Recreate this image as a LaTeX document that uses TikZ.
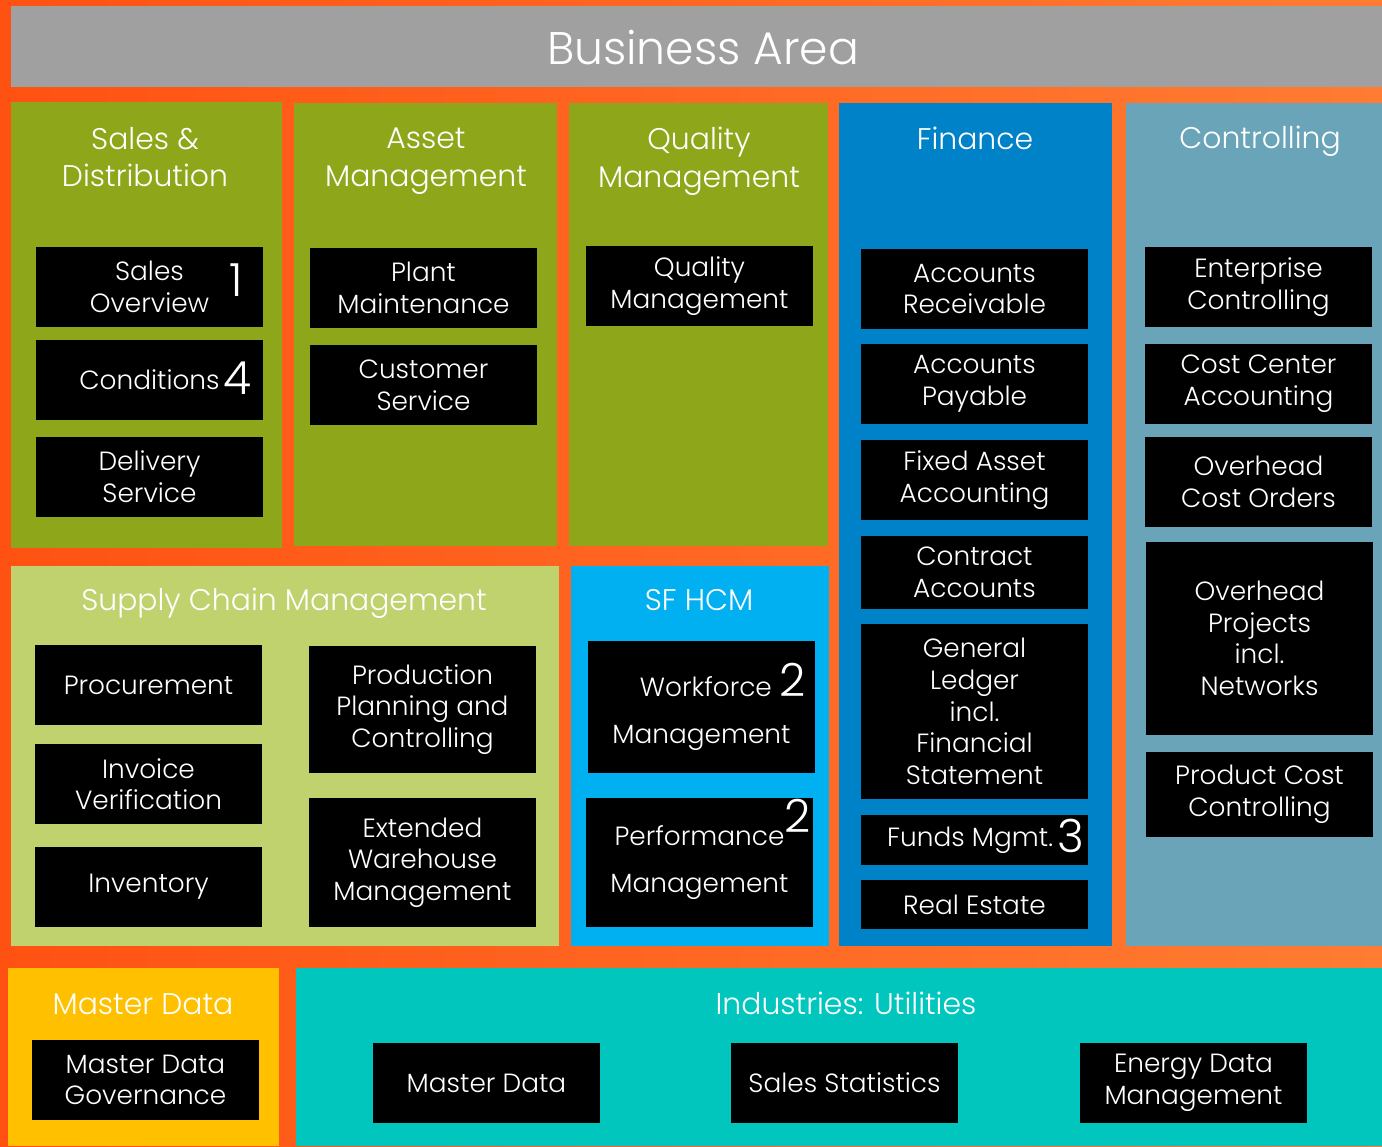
\documentclass[tikz,border=0pt]{standalone}
\usepackage{fontspec}
\setmainfont{Poppins}[UprightFont={* Light}]

\definecolor{bgleft}{HTML}{FF5212}
\definecolor{bgright}{HTML}{FF7C32}
\definecolor{headgray}{HTML}{A0A0A0}
\definecolor{olivegreen}{HTML}{8EA61A}
\definecolor{lightgreen}{HTML}{C0D26E}
\definecolor{hcmblue}{HTML}{00B0F0}
\definecolor{finblue}{HTML}{0082C8}
\definecolor{ctrlblue}{HTML}{6AA4B8}
\definecolor{mdyellow}{HTML}{FFC000}
\definecolor{indteal}{HTML}{00C6BE}

\newcommand{\boxfont}{\fontsize{15}{18}\selectfont}
\newcommand{\titlefont}{\fontsize{17}{21.5}\selectfont}
\newcommand{\numfont}{\fontsize{26}{26}\selectfont}

\tikzset{
  modbox/.style={fill=black, inner sep=0pt, text=white, align=center, font=\boxfont,
    minimum width=227*0.02cm, minimum height=80*0.02cm},
  boxh/.style={minimum height=#1*0.02cm},
  paneltitle/.style={text=white, align=center, font=\titlefont},
  numtag/.style={text=white, inner sep=0pt, font=\numfont}
}

\begin{document}
\begin{tikzpicture}[x=0.02cm, y=-0.02cm]
        \useasboundingbox (0,0) rectangle (1382,1146);
        % Background
        \shade[left color=bgleft, right color=bgright] (0,0) rectangle (1382,1146);

        % Header
        \fill[headgray] (11,6) rectangle (1382,87);
        \node[text=white, font=\fontsize{26}{30}\selectfont] (head) at (703,48) {Business Area};

        % Panels
        \fill[olivegreen] (11,102) rectangle (282,548);
        \fill[olivegreen] (294,103) rectangle (557,546);
        \fill[olivegreen] (569,103) rectangle (828,546);
        \fill[finblue] (839,103) rectangle (1112,946);
        \fill[ctrlblue] (1126,103) rectangle (1382,946);
        \fill[lightgreen] (11,566) rectangle (559,946);
        \fill[hcmblue] (571,566) rectangle (829,946);
        \fill[mdyellow] (8,968) rectangle (279,1146);
        \fill[indteal] (296,968) rectangle (1382,1146);

        % Panel titles
        \node[paneltitle] (tsd) at (145,157) {Sales \&\\Distribution};
        \node[paneltitle] (tam) at (426,161) {Asset\\Management};
        \node[paneltitle] (tqm) at (699,161) {Quality\\Management};
        \node[paneltitle] (tfi) at (975,138) {Finance};
        \node[paneltitle] (tco) at (1260,141) {Controlling};
        \node[paneltitle] (tscm) at (284,603) {Supply Chain Management};
        \node[paneltitle] (thcm) at (699,600) {SF HCM};
        \node[paneltitle] (tmd) at (143,1004) {Master Data};
        \node[paneltitle] (tind) at (846,1003) {Industries: Utilities};

        % Sales & Distribution
        \node[modbox] (salesov) at (149.5,287) {Sales\\Overview};
        \node[modbox] (cond) at (149.5,380) {Conditions};
        \node[modbox] (deliv) at (149.5,477) {Delivery\\Service};
        \node[numtag] (n1) at (236,280) {1};
        \node[numtag] (n4) at (237,378) {4};

        % Asset Management
        \node[modbox] (plant) at (423.5,288) {Plant\\Maintenance};
        \node[modbox] (custserv) at (423.5,385) {Customer\\Service};

        % Quality Management
        \node[modbox] (qual) at (699.5,286) {Quality\\Management};

        % Finance
        \node[modbox] (ar) at (974.5,289) {Accounts\\Receivable};
        \node[modbox] (ap) at (974.5,384) {Accounts\\Payable};
        \node[modbox] (faa) at (974.5,480) {Fixed Asset\\Accounting};
        \node[modbox, boxh=73] (ca) at (974.5,572.5) {Contract\\Accounts};
        \node[modbox, boxh=175] (gl) at (974.5,711.5) {General\\Ledger\\incl.\\Financial\\Statement};
        \node[modbox, boxh=50] (funds) at (974.5,840) {Funds Mgmt.\hspace*{5pt}};
        \node[modbox, boxh=49] (realest) at (974.5,904.5) {Real Estate};
        \node[numtag] (n3) at (1071,836) {3};

        % Controlling
        \node[modbox] (entctrl) at (1258.5,287) {Enterprise\\Controlling};
        \node[modbox] (cca) at (1258.5,384) {Cost Center\\Accounting};
        \node[modbox, boxh=90] (oco) at (1258.5,482) {Overhead\\Cost Orders};
        \node[modbox, boxh=193] (ohp) at (1259.5,638.5) {Overhead\\Projects\\incl.\\Networks};
        \node[modbox, boxh=85] (pcc) at (1259.5,794.5) {Product Cost\\Controlling};

        % Supply Chain Management
        \node[modbox] (proc) at (148.5,685) {Procurement};
        \node[modbox] (inv) at (148.5,784) {Invoice\\Verification};
        \node[modbox] (invent) at (148.5,887) {Inventory};
        \node[modbox, boxh=127] (ppc) at (422.5,709.5) {Production\\Planning and\\Controlling};
        \node[modbox, boxh=129] (ewm) at (422.5,862.5) {Extended\\Warehouse\\Management};

        % SF HCM
        \node[modbox, boxh=132] (wfm) at (701.5,707) {\hspace*{24pt}Workforce {\numfont 2}\\[8.5pt]Management};
        \node[modbox, boxh=129] (perf) at (699.5,862.5) {Performance\rlap{\smash{\raisebox{7pt}{\numfont 2}}}\\[9pt]Management};

        % Master Data
        \node[modbox] (mdg) at (145.5,1080) {Master Data\\Governance};

        % Industries: Utilities
        \node[modbox] (indmd) at (486.5,1083) {Master Data};
        \node[modbox] (salesstat) at (844.5,1083) {Sales Statistics};
        \node[modbox] (edm) at (1193.5,1083) {Energy Data\\Management};
    \end{tikzpicture}
\end{document}
